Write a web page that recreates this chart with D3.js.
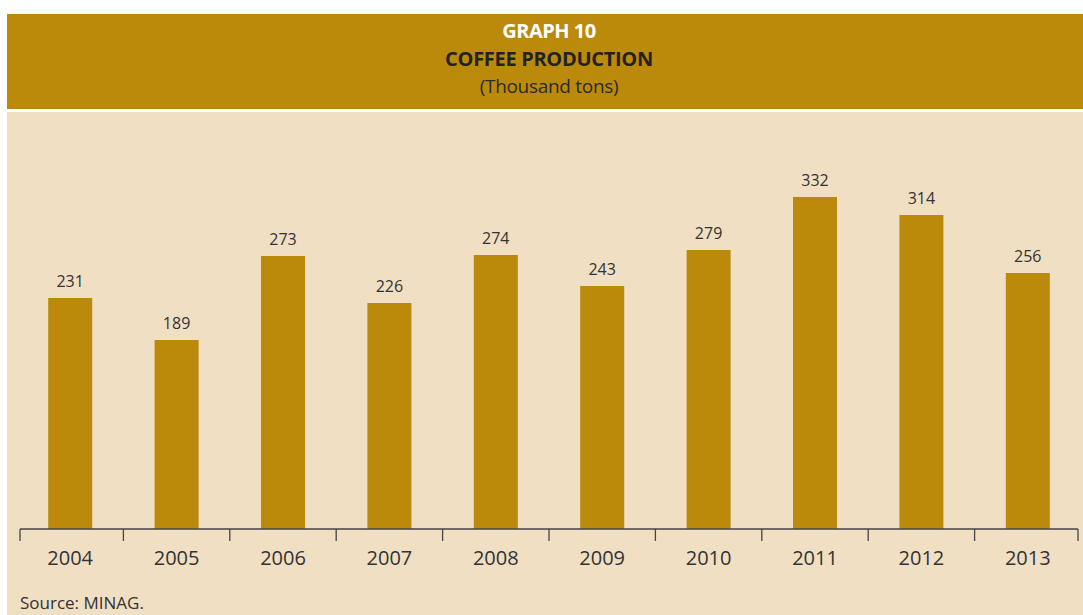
<!DOCTYPE html>
<html>
<head>
<meta charset="utf-8">
<script src="https://cdn.jsdelivr.net/npm/d3@7"></script>
<style>
  html, body { margin: 0; padding: 0; background: #ffffff; }
  svg { display: block; font-family: "Open Sans", "Noto Sans", sans-serif; }
</style>
</head>
<body>
<svg id="chart" width="1083" height="615"></svg>
<script>
// Coffee production, thousand tons
const years = ["2004", "2005", "2006", "2007", "2008", "2009", "2010", "2011", "2012", "2013"];
const production = [231, 189, 273, 226, 274, 243, 279, 332, 314, 256];
const titleLines = ["GRAPH 10", "COFFEE PRODUCTION", "(Thousand tons)"];
const sourceNote = "Source: MINAG.";

const W = 1083, H = 615;
const gold = "#bb8a0b";
const cream = "#f0dfc3";
const ink = "#333333";

const svg = d3.select("#chart");

// Title band
svg.append("rect").attr("x", 7).attr("y", 14).attr("width", W - 7).attr("height", 95).attr("fill", gold);
// Plot panel
svg.append("rect").attr("x", 7).attr("y", 112).attr("width", W - 7).attr("height", H - 112).attr("fill", cream);

const cx = 549;
svg.append("text").attr("x", cx).attr("y", 38).attr("text-anchor", "middle")
  .attr("font-size", 20).attr("font-weight", 700).attr("fill", "#ffffff")
  .attr("letter-spacing", -0.5).text(titleLines[0]);
svg.append("text").attr("x", cx).attr("y", 66).attr("text-anchor", "middle")
  .attr("font-size", 20).attr("font-weight", 700).attr("fill", "#222222")
  .attr("letter-spacing", -0.3).text(titleLines[1]);
svg.append("text").attr("x", cx).attr("y", 93).attr("text-anchor", "middle")
  .attr("font-size", 19).attr("font-weight", 400).attr("fill", "#2a2a2a")
  .attr("letter-spacing", -0.3).text(titleLines[2]);

// Scales
const x = d3.scaleBand().domain(years).range([17, 1081]).paddingInner(0).paddingOuter(0);
const y = d3.scaleLinear().domain([0, 350]).range([529, 179]);
const barW = 44;

// Bars
svg.append("g").selectAll("rect").data(years).join("rect")
  .attr("x", d => x(d) + x.bandwidth() / 2 - barW / 2)
  .attr("y", (d, i) => y(production[i]))
  .attr("width", barW)
  .attr("height", (d, i) => y(0) - y(production[i]))
  .attr("fill", gold);

// Value labels
svg.append("g").selectAll("text").data(years).join("text")
  .attr("x", d => x(d) + x.bandwidth() / 2)
  .attr("y", (d, i) => y(production[i]) - 11)
  .attr("text-anchor", "middle")
  .attr("font-size", 16)
  .attr("fill", ink)
  .text((d, i) => production[i]);

// Category axis: baseline, ticks between categories, year labels
const axisG = svg.append("g");
const x0 = 20, x1 = 1078, base = 529;
axisG.append("line").attr("x1", x0).attr("x2", x1).attr("y1", base).attr("y2", base)
  .attr("stroke", "#444").attr("stroke-width", 1.3);
const edges = years.map(d => x(d)).concat([x(years[years.length - 1]) + x.bandwidth()])
  .map(v => Math.max(x0, Math.min(x1, v)));
axisG.selectAll("line.tick").data(edges).join("line").attr("class", "tick")
  .attr("x1", d => d).attr("x2", d => d).attr("y1", base).attr("y2", base + 12)
  .attr("stroke", "#444").attr("stroke-width", 1.3);
axisG.selectAll("text").data(years).join("text")
  .attr("x", d => x(d) + x.bandwidth() / 2)
  .attr("y", 565)
  .attr("text-anchor", "middle")
  .attr("font-size", 20)
  .attr("fill", ink)
  .text(d => d);

// Source note
svg.append("text").attr("x", 20).attr("y", 609).attr("font-size", 17).attr("fill", ink).text(sourceNote);
</script>
</body>
</html>
